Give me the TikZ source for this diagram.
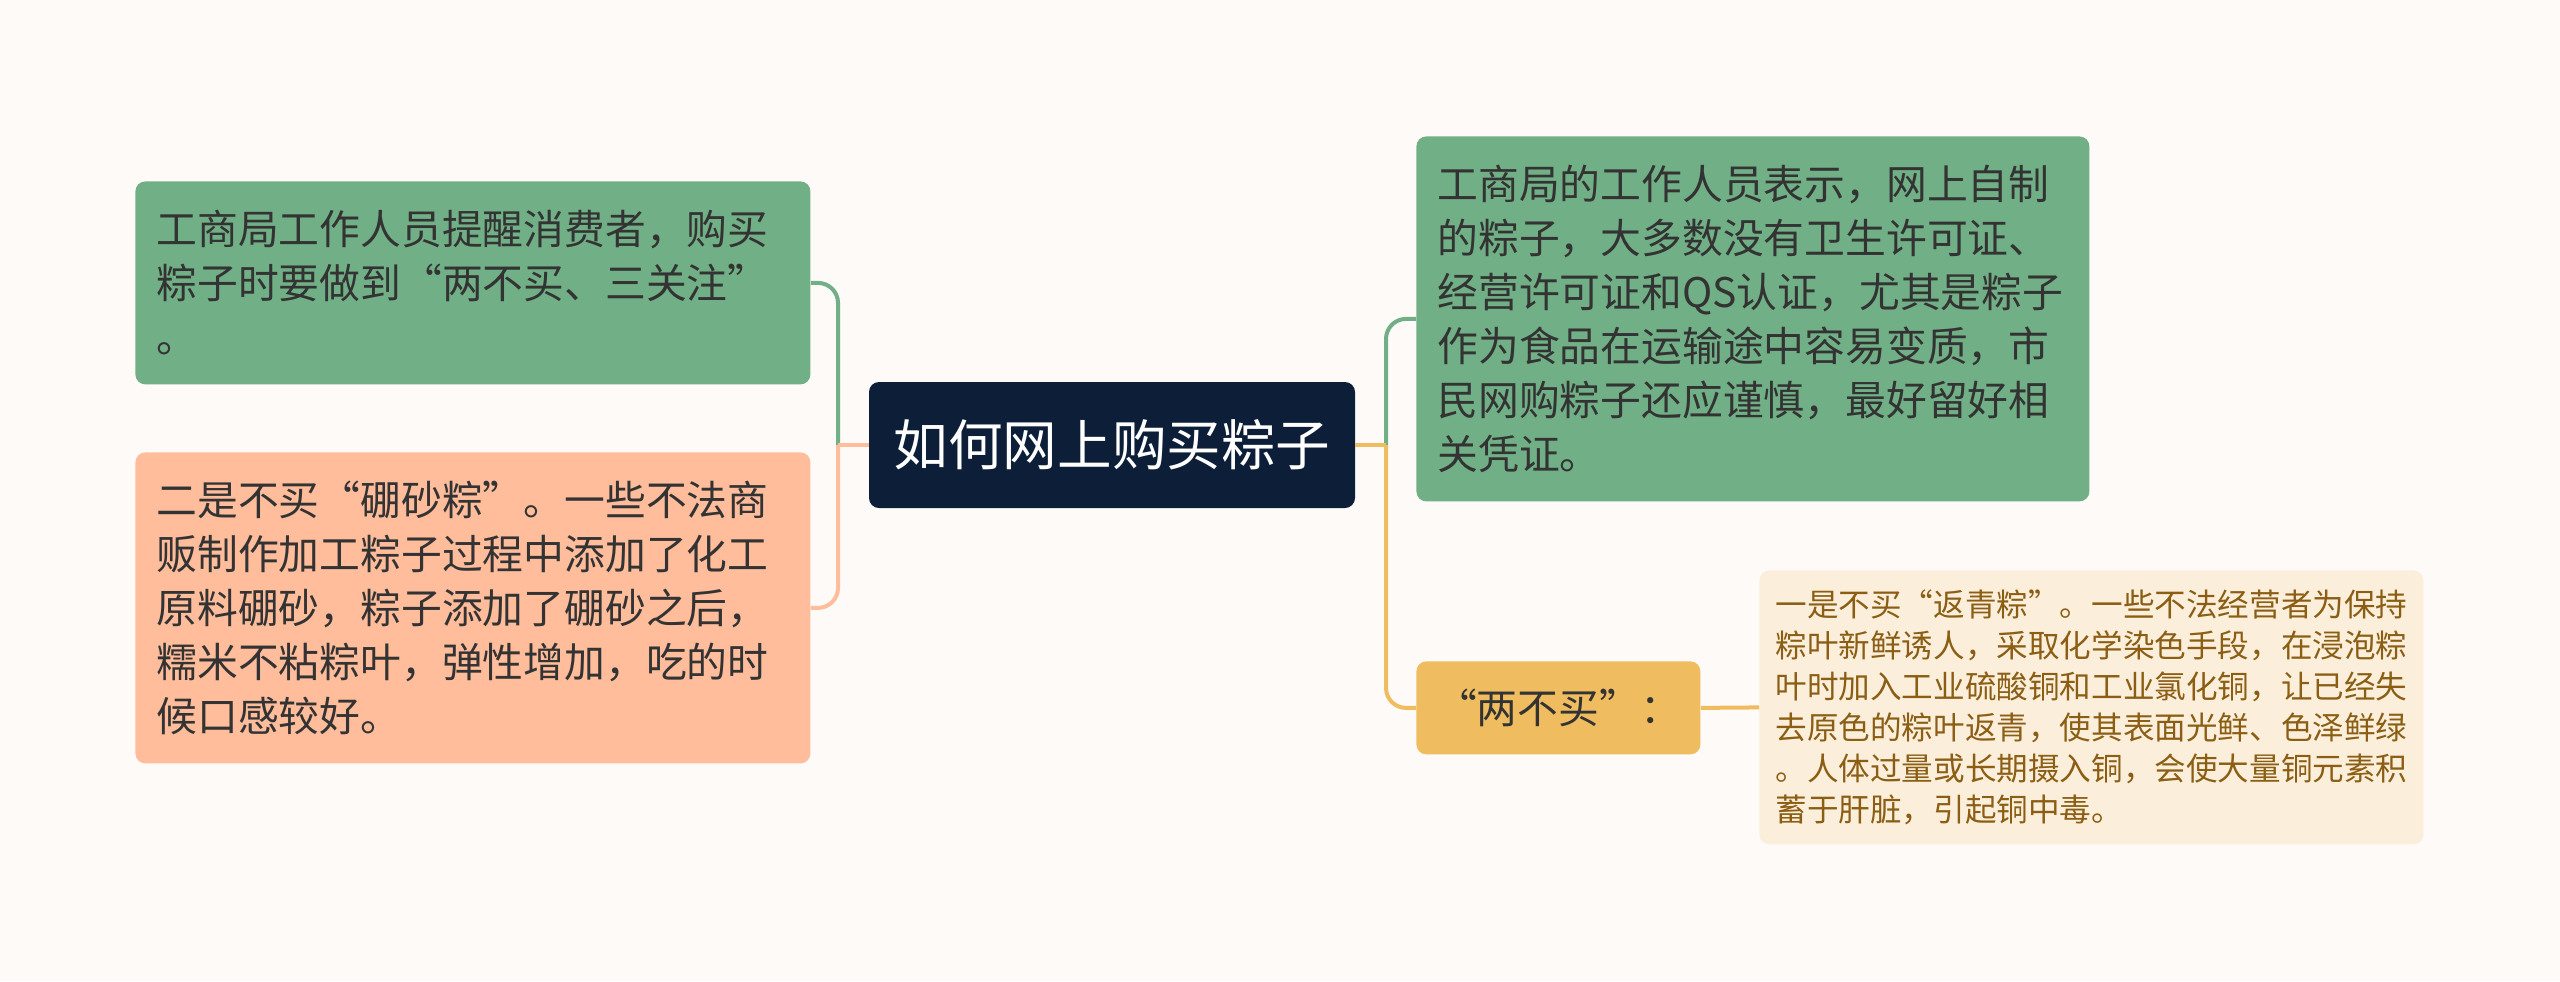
\documentclass[tikz,border=0pt]{standalone}
\usepackage{fontspec}
\newfontfamily\cjk{Noto Sans CJK SC}
\definecolor{bgc}{HTML}{FEFAF8}
\definecolor{greenc}{HTML}{71B086}
\definecolor{pinkc}{HTML}{FFBD9C}
\definecolor{navyc}{HTML}{0D1F38}
\definecolor{orangec}{HTML}{EFBC5F}
\definecolor{creamc}{HTML}{FBEFDC}
\definecolor{brownc}{HTML}{8B5E14}
\definecolor{textc}{HTML}{333333}
\tikzset{
  box/.style={rounded corners=5pt, inner ysep=6pt, align=left, anchor=north west,
    font=\cjk\fontsize{20.4}{27}\selectfont, text=textc},
  leaf/.style={box, text width=316.5pt, inner xsep=10.5pt},
  link/.style={line width=2pt},
}
\begin{document}
\begin{tikzpicture}[x=0.5pt,y=-0.5pt]
\useasboundingbox (0,0) rectangle (2560,981);
\fill[bgc] (0,0) rectangle (2560,981);

% centre
\node[fill=navyc, rounded corners=5pt, minimum width=243pt, minimum height=63pt,
  font=\cjk\fontsize{27.3}{32}\selectfont, text=white] (root) at (1112,445) {如何网上购买粽子};

% left side
\node[leaf, fill=greenc, minimum height=101.5pt] (tip) at (135,181)
  {工商局工作人员提醒消费者，购买\\粽子时要做到“两不买、三关注”\\。};
\node[leaf, fill=pinkc, minimum height=155.5pt] (borax) at (135,452)
  {二是不买“硼砂粽”。一些不法商\\贩制作加工粽子过程中添加了化工\\原料硼砂，粽子添加了硼砂之后，\\糯米不粘粽叶，弹性增加，吃的时\\候口感较好。};

% right side
\node[box, fill=greenc, text width=315.5pt, inner xsep=10.5pt, minimum height=182.5pt] (office) at (1416,136)
  {工商局的工作人员表示，网上自制\\的粽子，大多数没有卫生许可证、\\经营许可证和QS认证，尤其是粽子\\作为食品在运输途中容易变质，市\\民网购粽子还应谨慎，最好留好相\\关凭证。};
\node[box, fill=orangec, align=center, minimum width=142pt, minimum height=46.5pt] (twono) at (1416,661)
  {“两不买”：};
\node[box, fill=creamc, text=brownc, text width=316pt, inner xsep=8pt, minimum height=137pt,
  font=\cjk\fontsize{15.8}{20.5}\selectfont] (green) at (1759,570)
  {一是不买“返青粽”。一些不法经营者为保持\\粽叶新鲜诱人，采取化学染色手段，在浸泡粽\\叶时加入工业硫酸铜和工业氯化铜，让已经失\\去原色的粽叶返青，使其表面光鲜、色泽鲜绿\\。人体过量或长期摄入铜，会使大量铜元素积\\蓄于肝脏，引起铜中毒。};

% connectors
\coordinate (lj) at (838,445);
\coordinate (rj) at (1386,445);
\draw[link, greenc, rounded corners=10pt] (lj) |- (tip.east);
\draw[link, pinkc, rounded corners=10pt] (lj) |- (borax.east);
\draw[link, pinkc] (root.west) -- (lj);
\draw[link, greenc, rounded corners=10pt] (rj) |- (office.west);
\draw[link, orangec, rounded corners=10pt] (rj) |- (twono.west);
\draw[link, orangec] (root.east) -- (rj);
\draw[link, orangec] (twono.east) -- (green.west);
\end{tikzpicture}
\end{document}
